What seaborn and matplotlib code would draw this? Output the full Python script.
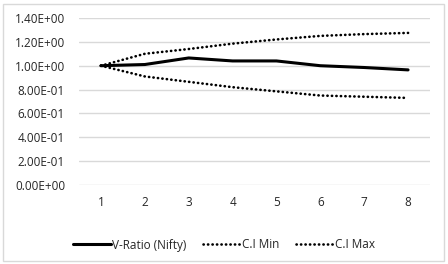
import matplotlib
matplotlib.use("Agg")
import matplotlib.pyplot as plt
import seaborn as sns
import pandas as pd
from matplotlib.patches import Rectangle

lags = [1, 2, 3, 4, 5, 6, 7, 8]
v_ratio = [1.00, 1.01, 1.065, 1.04, 1.04, 1.00, 0.985, 0.965]
ci_min = [1.00, 0.91, 0.865, 0.82, 0.785, 0.75, 0.74, 0.73]
ci_max = [1.00, 1.10, 1.14, 1.185, 1.22, 1.25, 1.265, 1.275]
y_ticks = [0.0, 0.2, 0.4, 0.6, 0.8, 1.0, 1.2, 1.4]

sns.set_style("white")
plt.rcParams['font.family'] = ['Open Sans', 'DejaVu Sans']

df = pd.DataFrame({'lag': lags, 'V-Ratio (Nifty)': v_ratio,
                   'C.I Min': ci_min, 'C.I Max': ci_max})

fig = plt.figure(figsize=(4.48, 2.64), dpi=100)
ax = fig.add_axes([79 / 448, 1 - 185 / 264, (430 - 79) / 448, (185 - 18) / 264])

sns.lineplot(data=df, x='lag', y='V-Ratio (Nifty)', ax=ax, color='black',
             lw=2.2, label='V-Ratio (Nifty)')
sns.lineplot(data=df, x='lag', y='C.I Min', ax=ax, color='black',
             lw=1.9, label='C.I Min')
sns.lineplot(data=df, x='lag', y='C.I Max', ax=ax, color='black',
             lw=1.9, label='C.I Max')

# dotted CI lines with round dots
for line in ax.lines[1:]:
    line.set_dashes((0.1, 1.6))
    line.set_dash_capstyle('round')

ax.set_xlim(0.5, 8.5)
ax.set_ylim(0, 1.4)
ax.set_yticks(y_ticks)
ax.set_yticklabels(['%.2E' % v for v in y_ticks])
ax.set_xticks(lags)
ax.set_xticklabels([str(l) for l in lags])
ax.set_xlabel('')
ax.set_ylabel('')
ax.tick_params(axis='both', length=0, labelsize=8.5, colors='#262626')
ax.tick_params(axis='y', pad=10)
ax.tick_params(axis='x', pad=8)
ax.grid(axis='y', color='#d9d9d9', lw=1)
ax.set_axisbelow(True)
for s in ax.spines.values():
    s.set_visible(False)

leg = ax.legend(loc='center', bbox_to_anchor=(0.5, 1 - 245 / 264),
                bbox_transform=fig.transFigure, ncol=3, frameon=False,
                fontsize=8.5, handlelength=3.2, handletextpad=0.1,
                columnspacing=1.4)
for h in leg.get_lines()[1:]:
    h.set_dashes((0.1, 1.6))
    h.set_dash_capstyle('round')

fig.patches.append(Rectangle((3 / 448, 3 / 264), 441 / 448, 257 / 264,
                             transform=fig.transFigure, fill=False,
                             edgecolor='#d9d9d9', lw=1))

fig.savefig('out.png', dpi=100)
